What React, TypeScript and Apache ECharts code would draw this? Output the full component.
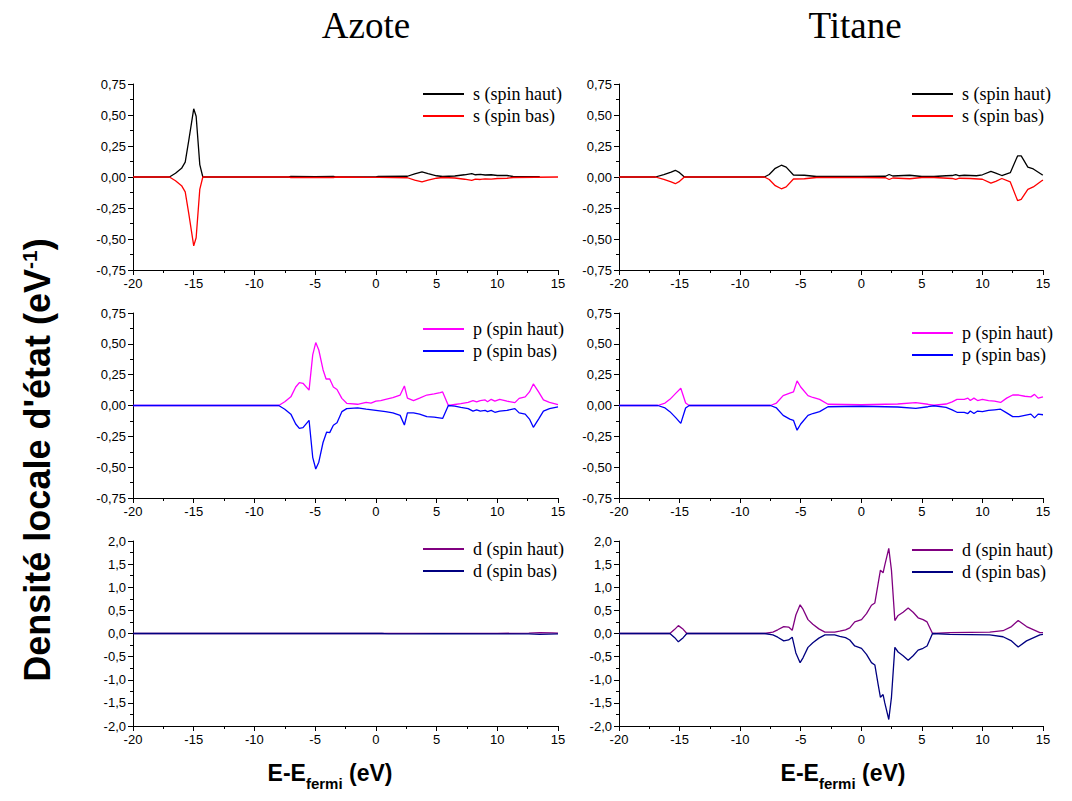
import React, { useEffect, useRef } from "react";
import * as echarts from "echarts";

// ---------- data : [E - Efermi (eV), DOS (eV^-1)] ----------
const azoteSUp = [[-20,0],[-17,0],[-16.5,0.03],[-16,0.07],[-15.7,0.12],[-15.4,0.3],[-15.0,0.55],[-14.8,0.49],[-14.5,0.1],[-14.25,0],[-7.2,0],[-7,0.004],[-5,0.003],[-3.5,0.004],[-3.3,0],[0,0],[0.2,0.004],[2.6,0.006],[3.2,0.025],[3.8,0.042],[4.3,0.028],[5,0.01],[5.5,0.004],[6.5,0.008],[7.3,0.018],[7.9,0.028],[8.2,0.018],[8.6,0.022],[9,0.016],[9.5,0.018],[10,0.012],[10.8,0.012],[11.3,0.004],[13.5,0.003]];
const azoteSDown = [[-20,0],[-17,0],[-16.5,-0.03],[-16,-0.07],[-15.7,-0.12],[-15.4,-0.3],[-15.0,-0.555],[-14.8,-0.49],[-14.5,-0.1],[-14.25,0],[-7.2,0],[-7,-0.004],[-3.5,-0.004],[-3.3,0],[0.2,-0.003],[2.6,-0.006],[3.2,-0.025],[3.8,-0.04],[4.3,-0.025],[5,-0.01],[5.5,-0.004],[6.5,-0.008],[7.3,-0.018],[7.9,-0.027],[8.2,-0.017],[8.6,-0.02],[9,-0.015],[9.5,-0.017],[10,-0.012],[10.8,-0.01],[11.3,-0.004],[15,0]];

const titaneSUp = [[-20,0],[-17,0],[-16.3,0.02],[-15.7,0.04],[-15.35,0.054],[-15,0.035],[-14.6,0],[-8,0],[-7.6,0.02],[-7.1,0.07],[-6.6,0.095],[-6.2,0.08],[-5.6,0.016],[-4.7,0.014],[-3.7,0.004],[0,0.004],[2,0.006],[2.3,0.02],[2.6,0.008],[3.5,0.012],[4,0.014],[5,0.004],[6,0.004],[7,0.01],[7.5,0.012],[7.8,0.02],[8.1,0.01],[8.5,0.014],[9,0.012],[9.5,0.01],[10,0.018],[10.7,0.045],[11.1,0.032],[11.6,0.012],[12.3,0.035],[12.9,0.17],[13.2,0.17],[13.75,0.08],[14.2,0.065],[14.9,0.02],[15,0.018]];
const titaneSDown = [[-20,0],[-17,0],[-16.3,-0.02],[-15.7,-0.04],[-15.35,-0.054],[-15,-0.035],[-14.6,0],[-8,0],[-7.6,-0.02],[-7.1,-0.07],[-6.6,-0.095],[-6.2,-0.08],[-5.6,-0.016],[-4.7,-0.014],[-3.7,-0.004],[0,-0.004],[2,-0.006],[2.3,-0.02],[2.6,-0.008],[4,-0.014],[5,-0.004],[6,-0.004],[7.5,-0.012],[7.8,-0.02],[8.1,-0.01],[9,-0.012],[10,-0.018],[10.7,-0.05],[11.1,-0.035],[11.6,-0.012],[12.3,-0.04],[12.9,-0.19],[13.2,-0.18],[13.75,-0.1],[14.2,-0.08],[14.9,-0.03],[15,-0.025]];

const azotePUp = [[-20,0],[-8,0],[-7.5,0.03],[-7,0.07],[-6.6,0.15],[-6.3,0.185],[-6,0.18],[-5.5,0.125],[-5.2,0.41],[-4.95,0.51],[-4.7,0.45],[-4.35,0.29],[-4.1,0.215],[-3.8,0.215],[-3.5,0.15],[-3.2,0.13],[-2.8,0.058],[-2.4,0.018],[-1.5,0.01],[-0.8,0.025],[-0.4,0.02],[0,0.035],[0.4,0.04],[0.8,0.05],[1.4,0.063],[2,0.085],[2.35,0.158],[2.6,0.06],[3.1,0.04],[3.6,0.06],[4.2,0.085],[4.8,0.095],[5.3,0.104],[5.5,0.11],[5.97,0],[6.5,0.008],[7,0.015],[7.6,0.025],[8,0.04],[8.3,0.03],[8.6,0.04],[9,0.045],[9.2,0.03],[9.5,0.05],[9.8,0.035],[10.2,0.05],[10.8,0.035],[11.45,0.023],[11.8,0.058],[12.3,0.07],[12.65,0.11],[12.97,0.175],[13.4,0.11],[13.8,0.045],[14.3,0.025],[15,0.008]];
const azotePDown = [[-20,0],[-8,0],[-7.5,-0.03],[-7,-0.07],[-6.6,-0.15],[-6.3,-0.185],[-6,-0.18],[-5.5,-0.12],[-5.2,-0.42],[-4.95,-0.515],[-4.7,-0.46],[-4.35,-0.3],[-4.05,-0.215],[-3.8,-0.22],[-3.5,-0.16],[-3.2,-0.14],[-2.8,-0.05],[-2.4,-0.025],[-1.5,-0.02],[-0.8,-0.03],[0,-0.04],[0.8,-0.05],[1.4,-0.06],[2,-0.08],[2.35,-0.158],[2.6,-0.06],[3.1,-0.06],[3.6,-0.07],[4.2,-0.09],[4.8,-0.095],[5.5,-0.105],[5.97,0],[6.5,-0.005],[7,-0.015],[7.6,-0.025],[8,-0.045],[8.3,-0.035],[8.6,-0.045],[9,-0.04],[9.2,-0.05],[9.5,-0.04],[9.8,-0.055],[10.2,-0.045],[10.8,-0.04],[11.45,-0.025],[11.8,-0.06],[12.3,-0.07],[12.65,-0.11],[12.97,-0.177],[13.4,-0.11],[13.8,-0.045],[14.3,-0.025],[15,-0.012]];

const titanePUp = [[-20,0],[-16.8,0],[-16.2,0.02],[-15.8,0.05],[-15.3,0.1],[-14.9,0.14],[-14.5,0.02],[-14.2,0],[-7.5,0],[-7,0.02],[-6.45,0.08],[-5.9,0.1],[-5.6,0.11],[-5.3,0.2],[-5.0,0.15],[-4.4,0.08],[-4,0.065],[-3.44,0.05],[-2.75,0.01],[0,0.006],[3,0.012],[4.5,0.024],[5.5,0.01],[6,0.002],[7,0.012],[7.5,0.03],[7.9,0.05],[8.5,0.05],[8.8,0.06],[9,0.04],[9.3,0.06],[9.6,0.04],[10,0.05],[10.5,0.04],[11,0.035],[11.5,0.025],[12,0.06],[12.5,0.085],[13,0.085],[13.5,0.075],[14,0.07],[14.3,0.09],[14.6,0.06],[15,0.07]];
const titanePDown = [[-20,0],[-16.8,0],[-16.2,-0.02],[-15.8,-0.05],[-15.3,-0.1],[-14.9,-0.145],[-14.5,-0.02],[-14.2,0],[-7.5,0],[-7,-0.02],[-6.45,-0.08],[-5.9,-0.11],[-5.6,-0.12],[-5.3,-0.2],[-5.0,-0.15],[-4.4,-0.08],[-4,-0.065],[-3.44,-0.05],[-2.75,-0.01],[0,-0.006],[3,-0.012],[4.5,-0.024],[5.5,-0.01],[6,-0.002],[7,-0.015],[7.5,-0.035],[7.9,-0.055],[8.5,-0.055],[8.8,-0.065],[9,-0.045],[9.3,-0.065],[9.6,-0.045],[10,-0.05],[10.5,-0.04],[11,-0.035],[11.5,-0.03],[12,-0.06],[12.5,-0.09],[13,-0.09],[13.5,-0.08],[14,-0.07],[14.3,-0.1],[14.6,-0.07],[15,-0.075]];

const azoteDUp = [[-20,0],[0.5,0],[1,0.003],[3,0.004],[5,0.002],[10,0.003],[12.6,0.008],[13.5,0.02],[14.5,0.015],[15,0.01]];
const azoteDDown = [[-20,0],[0.5,0],[1,-0.008],[3,-0.01],[5,-0.004],[10,-0.006],[12.6,-0.01],[13.5,-0.02],[15,-0.01]];

const titaneDUp = [[-20,0],[-15.8,0],[-15.4,0.09],[-15.1,0.17],[-14.7,0.09],[-14.4,0],[-8,0],[-7.3,0.03],[-6.9,0.08],[-6.4,0.15],[-6,0.14],[-5.7,0.07],[-5.4,0.4],[-5.05,0.62],[-4.8,0.52],[-4.4,0.3],[-4,0.2],[-3.5,0.1],[-3,0.03],[-2.2,0.03],[-1.78,0.05],[-1.3,0.08],[-0.95,0.12],[-0.54,0.25],[0.02,0.3],[0.43,0.43],[0.84,0.61],[1.12,0.66],[1.39,1.08],[1.58,1.37],[1.8,1.31],[1.94,1.48],[2.27,1.84],[2.49,1.37],[2.77,0.28],[3.04,0.39],[3.45,0.46],[3.87,0.55],[4.28,0.46],[4.69,0.34],[5.1,0.3],[5.43,0.25],[5.88,0],[7.3,0.02],[10.6,0.03],[11.7,0.06],[12.4,0.15],[12.95,0.28],[13.64,0.15],[14.74,0.02],[15,0.02]];
const titaneDDown = [[-20,0],[-15.8,0],[-15.4,-0.09],[-15.1,-0.18],[-14.7,-0.09],[-14.4,0],[-8,0],[-7.3,-0.03],[-6.9,-0.08],[-6.4,-0.16],[-6,-0.14],[-5.7,-0.08],[-5.4,-0.42],[-5.05,-0.63],[-4.8,-0.52],[-4.4,-0.3],[-4,-0.2],[-3.5,-0.1],[-3,-0.03],[-2.2,-0.03],[-1.78,-0.06],[-1.3,-0.09],[-0.95,-0.14],[-0.54,-0.27],[0.02,-0.32],[0.43,-0.45],[0.84,-0.63],[1.12,-0.68],[1.39,-1.1],[1.58,-1.38],[1.8,-1.32],[1.94,-1.5],[2.27,-1.86],[2.49,-1.38],[2.77,-0.3],[3.04,-0.4],[3.45,-0.48],[3.87,-0.58],[4.28,-0.48],[4.69,-0.36],[5.1,-0.32],[5.43,-0.27],[5.88,0],[7.3,-0.02],[10.6,-0.03],[11.7,-0.07],[12.4,-0.16],[12.95,-0.29],[13.64,-0.16],[14.74,-0.03],[15,-0.02]];

const xTicksMin = -20;
const xTicksMax = 15;
const columnTitles = ["Azote", "Titane"];
const legendNames = [
  ["s (spin haut)", "s (spin bas)"],
  ["p (spin haut)", "p (spin bas)"],
  ["d (spin haut)", "d (spin bas)"],
];
const colors = [
  ["#000000", "#ff0000"],
  ["#ff00ff", "#0000ff"],
  ["#800080", "#000080"],
];
const panels = [
  [azoteSUp, azoteSDown, titaneSUp, titaneSDown],
  [azotePUp, azotePDown, titanePUp, titanePDown],
  [azoteDUp, azoteDDown, titaneDUp, titaneDDown],
];
const yRanges = [
  { min: -0.75, max: 0.75, interval: 0.25, dec: 2 },
  { min: -0.75, max: 0.75, interval: 0.25, dec: 2 },
  { min: -2, max: 2, interval: 0.5, dec: 1 },
];

// layout
const colLeft = [133, 619];
const colWidth = [425, 424];
const rowTop = [84, 313, 541];
const rowHeight = [186, 185, 185];
const legendTop = [[85, 85], [320, 324], [540, 541]];
const legendLeft = [423, 912];

const SERIF = "'Liberation Serif', 'Times New Roman', serif";
const SANS = "'Liberation Sans', Arial, sans-serif";

export default function App() {
  const ref = useRef<HTMLDivElement>(null);
  useEffect(() => {
    if (!ref.current) return;
    const chart = echarts.init(ref.current, undefined, { renderer: "svg" });
    const grids: any[] = [];
    const xAxes: any[] = [];
    const yAxes: any[] = [];
    const series: any[] = [];
    const legends: any[] = [];
    const labelFont = { fontFamily: SANS, fontSize: 13, color: "#000" };
    let gi = 0;
    for (let r = 0; r < 3; r++) {
      for (let c = 0; c < 2; c++) {
        grids.push({ left: colLeft[c], top: rowTop[r], width: colWidth[c], height: rowHeight[r] });
        xAxes.push({
          type: "value", gridIndex: gi, min: xTicksMin, max: xTicksMax, interval: 5,
          axisLine: { onZero: false, lineStyle: { color: "#000", width: 1 } },
          axisTick: { show: true, length: 5, lineStyle: { color: "#000" } },
          minorTick: { show: true, splitNumber: 2, length: 3, lineStyle: { color: "#000" } },
          splitLine: { show: false },
          axisLabel: { ...labelFont, margin: 7 },
        });
        const yr = yRanges[r];
        yAxes.push({
          type: "value", gridIndex: gi, min: yr.min, max: yr.max, interval: yr.interval,
          axisLine: { show: true, onZero: false, lineStyle: { color: "#000", width: 1 } },
          axisTick: { show: true, length: 5, lineStyle: { color: "#000" } },
          minorTick: { show: true, splitNumber: 2, length: 3, lineStyle: { color: "#000" } },
          splitLine: { show: false },
          axisLabel: {
            ...labelFont, margin: 7,
            formatter: (v: number) => v.toFixed(yr.dec).replace(".", ","),
          },
        });
        const up = panels[r][c * 2];
        const down = panels[r][c * 2 + 1];
        [up, down].forEach((d, k) => {
          series.push({
            type: "line", name: legendNames[r][k], xAxisIndex: gi, yAxisIndex: gi,
            data: d, showSymbol: false, symbol: "none",
            lineStyle: { color: colors[r][k], width: 1.3 },
            itemStyle: { color: colors[r][k] },
            z: 2 + k,
          });
        });
        legends.push({
          data: legendNames[r].map((n, k) => ({ name: n, itemStyle: { color: colors[r][k] } })),
          orient: "vertical", left: legendLeft[c], top: legendTop[r][c], padding: 0,
          itemWidth: 41, itemHeight: 2, itemGap: 4, icon: "rect", selectedMode: false,
          textStyle: { fontFamily: SERIF, fontSize: 18, color: "#000", padding: [0, 0, 0, 4] },
        });
        gi++;
      }
    }
    const titleFont = "37px " + SERIF;
    const graphics: any[] = [
      { type: "text", x: 366, y: 25, style: { text: columnTitles[0], font: titleFont, fill: "#000", textAlign: "center", textVerticalAlign: "middle" } },
      { type: "text", x: 855, y: 25, style: { text: columnTitles[1], font: titleFont, fill: "#000", textAlign: "center", textVerticalAlign: "middle" } },
      {
        type: "text", x: 37, y: 460, rotation: Math.PI / 2,
        style: {
          text: "{a|Densité locale d'état (eV}{b|-1}{a|)}",
          textAlign: "center", textVerticalAlign: "middle", fill: "#000",
          rich: {
            a: { fontFamily: SANS, fontWeight: "bold", fontSize: 36, fill: "#000", color: "#000", verticalAlign: "bottom" },
            b: { fontFamily: SANS, fontWeight: "bold", fontSize: 21, fill: "#000", color: "#000", verticalAlign: "top" },
          },
        },
      },
    ];
    [330, 843].forEach((cx) => {
      graphics.push({
        type: "text", x: cx, y: 776,
        style: {
          text: "{a|E-E}{b|fermi}{a| (eV)}",
          textAlign: "center", textVerticalAlign: "middle", fill: "#000",
          rich: {
            a: { fontFamily: SANS, fontWeight: "bold", fontSize: 23, fill: "#000", color: "#000", verticalAlign: "top", lineHeight: 30 },
            b: { fontFamily: SANS, fontWeight: "bold", fontSize: 15, fill: "#000", color: "#000", verticalAlign: "bottom", lineHeight: 30 },
          },
        },
      });
    });
    chart.setOption({
      animation: false,
      backgroundColor: "#ffffff",
      grid: grids,
      xAxis: xAxes,
      yAxis: yAxes,
      series,
      legend: legends,
      graphic: graphics,
    });
    return () => chart.dispose();
  }, []);
  return (
    <div
      ref={ref}
      style={{ position: "fixed", left: 0, top: 0, width: 1072, height: 801, background: "#fff" }}
    />
  );
}
